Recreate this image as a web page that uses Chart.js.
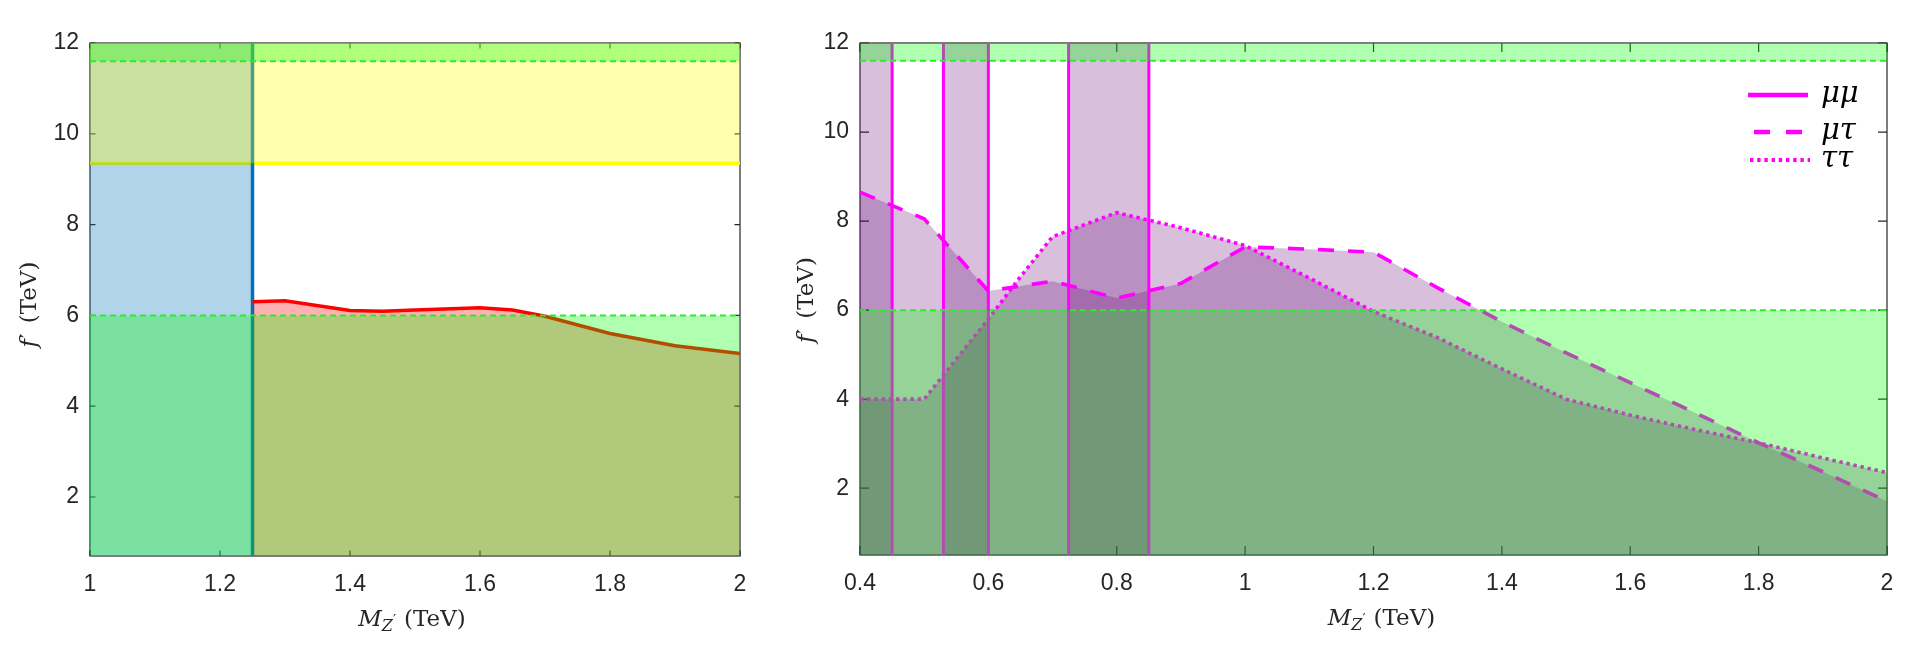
<!DOCTYPE html>
<html>
<head>
<meta charset="utf-8">
<title>Z' limits</title>
<script src="https://cdn.jsdelivr.net/npm/chart.js@4.4.1/dist/chart.umd.min.js"></script>
<style>
  html, body { margin: 0; padding: 0; background: #fff; }
  #wrap { position: relative; width: 1921px; height: 659px; overflow: hidden; }
  .panel { position: absolute; top: 0; height: 659px; }
  #left { left: 0; width: 770px; }
  #right { left: 770px; width: 1151px; }
</style>
</head>
<body>
<div id="wrap">
  <div class="panel" id="left"><canvas id="leftChart"></canvas></div>
  <div class="panel" id="right"><canvas id="rightChart"></canvas></div>
</div>
<script>
// ---- left panel data ----
const leftXRange = [1, 2];
const leftYRange = [0.7, 12];
const leftXTicks = [1, 1.2, 1.4, 1.6, 1.8, 2];
const leftYTicks = [2, 4, 6, 8, 10, 12];
const leftMass = [1.25, 1.3, 1.4, 1.45, 1.5, 1.6, 1.65, 1.7, 1.8, 1.9, 2.0];
const leftLimit = [6.30, 6.32, 6.11, 6.09, 6.12, 6.17, 6.12, 5.98, 5.60, 5.33, 5.16];
const blueEdge = 1.25;      // vertical bound (blue)
const yellowLevel = 9.35;   // horizontal bound (yellow)

// ---- right panel data ----
const rightXRange = [0.4, 2];
const rightYRange = [0.5, 12];
const rightXTicks = [0.4, 0.6, 0.8, 1, 1.2, 1.4, 1.6, 1.8, 2];
const rightYTicks = [2, 4, 6, 8, 10, 12];
const rightMass = [0.4, 0.5, 0.6, 0.65, 0.7, 0.8, 0.9, 1.0, 1.1, 1.2, 1.3, 1.4, 1.5, 1.6, 1.7, 1.8, 1.9, 2.0];
const muTau = [8.65, 8.05, 6.43, 6.54, 6.65, 6.27, 6.60, 7.42, 7.37, 7.30, 6.50, 5.74, 5.04, 4.37, 3.70, 3.02, 2.37, 1.71];
const tauTau = [4.00, 4.00, 5.80, 6.75, 7.65, 8.19, 7.85, 7.45, 6.72, 5.97, 5.38, 4.68, 4.00, 3.64, 3.32, 3.02, 2.68, 2.35];
const muMuEdges = [0.45, 0.53, 0.6, 0.725, 0.85];
const muMuBands = [[0.4, 0.45], [0.53, 0.6], [0.725, 0.85]];
const channelNames = ['\u03bc\u03bc', '\u03bc\u03c4', '\u03c4\u03c4'];

// ---- shared bounds ----
const greenLow = 6;
const greenHigh = 11.6;

const AXIS_COLOR = '#262626';
const SANS = "'Liberation Sans', Arial, sans-serif";
const SERIF = "'DejaVu Serif', 'Liberation Serif', serif";
const MAGENTA = 'rgb(255,0,255)';
const GREEN_FILL = 'rgba(0,255,0,0.31)';
const GREEN_EDGE = 'rgb(45,235,45)';
const PURPLE_FILL = 'rgba(100,0,115,0.25)';
const DASH = [16, 14];
const DOT = [3.4, 3.8];

const pts = (xs, ys) => xs.map((x, i) => ({ x: x, y: ys[i] }));
const hline = (xr, y) => [{ x: xr[0], y: y }, { x: xr[1], y: y }];
const vline = (x, yr) => [{ x: x, y: yr[0] }, { x: x, y: yr[1] }];
const fmt = v => String(+Number(v).toFixed(2));

function layer(data, style) {
  return Object.assign({
    data: data, pointRadius: 0, borderWidth: 1, fill: false,
    borderColor: 'transparent', backgroundColor: 'transparent', tension: 0
  }, style);
}

// list is bottom-first; chart.js draws highest order first
function stack(layers) {
  return layers.map((d, i) => Object.assign(d, { order: layers.length - i }));
}

function makeScales(p) {
  return {
    x: {
      type: 'linear', min: p.xRange[0], max: p.xRange[1],
      grid: { display: false, drawTicks: false }, border: { display: false },
      ticks: { autoSkip: false, maxRotation: 0, padding: 15, color: AXIS_COLOR, font: { family: SANS, size: 23 }, callback: fmt },
      afterBuildTicks: s => { s.ticks = p.xTicks.map(v => ({ value: v })); },
      afterFit: s => { s.height = p.xAxisHeight; }
    },
    y: {
      type: 'linear', min: p.yRange[0], max: p.yRange[1],
      grid: { display: false, drawTicks: false }, border: { display: false },
      ticks: { autoSkip: false, padding: 11, color: AXIS_COLOR, font: { family: SANS, size: 23 }, callback: fmt },
      afterBuildTicks: s => { s.ticks = p.yTicks.map(v => ({ value: v })); },
      afterFit: s => { s.width = p.yAxisWidth; }
    }
  };
}

// box + inward ticks, drawn under the data like the original
const framePlugin = {
  id: 'frame',
  beforeDatasetsDraw(chart, args, o) {
    const { ctx, chartArea: a } = chart;
    const x = chart.scales.x, y = chart.scales.y;
    ctx.save();
    ctx.strokeStyle = AXIS_COLOR;
    ctx.lineWidth = 1.2;
    ctx.strokeRect(a.left, a.top, a.right - a.left, a.bottom - a.top);
    ctx.beginPath();
    x.ticks.forEach(t => {
      const px = x.getPixelForValue(t.value);
      ctx.moveTo(px, a.bottom); ctx.lineTo(px, a.bottom - o.len);
      ctx.moveTo(px, a.top); ctx.lineTo(px, a.top + o.len);
    });
    y.ticks.forEach(t => {
      const py = y.getPixelForValue(t.value);
      ctx.moveTo(a.left, py); ctx.lineTo(a.left + o.len, py);
      ctx.moveTo(a.right, py); ctx.lineTo(a.right - o.len, py);
    });
    ctx.stroke();
    ctx.restore();
  }
};

function drawRuns(ctx, runs, cx, y) {
  let w = 0;
  runs.forEach(r => { ctx.font = r.font; w += ctx.measureText(r.text).width + (r.gap || 0); });
  let x = cx - w / 2;
  runs.forEach(r => {
    ctx.font = r.font;
    ctx.fillText(r.text, x, y + (r.dy || 0));
    x += ctx.measureText(r.text).width + (r.gap || 0);
  });
}

const xTitleRuns = [
  { text: 'M', font: 'italic 23px ' + SERIF, gap: 0 },
  { text: 'Z', font: 'italic 16px ' + SERIF, dy: 5 },
  { text: '\u2032', font: '14px ' + SERIF, dy: -1, gap: 8 },
  { text: '(TeV)', font: '23px ' + SERIF }
];
const yTitleRuns = [
  { text: 'f', font: 'italic 23px ' + SERIF, gap: 1 },
  { text: '\u2032', font: '20px ' + SERIF, dy: -1, gap: 10 },
  { text: '(TeV)', font: '23px ' + SERIF }
];

const titlePlugin = {
  id: 'axisTitles',
  afterDraw(chart, args, o) {
    const { ctx, chartArea: a } = chart;
    ctx.save();
    ctx.fillStyle = AXIS_COLOR;
    ctx.textBaseline = 'alphabetic';
    drawRuns(ctx, xTitleRuns, (a.left + a.right) / 2 + o.xShift, o.xBaseline);
    ctx.translate(o.yBaseline, (a.top + a.bottom) / 2 + o.yShift);
    ctx.rotate(-Math.PI / 2);
    drawRuns(ctx, yTitleRuns, 0, 0);
    ctx.restore();
  }
};

const channelStyles = [
  { dash: [], width: 4.5, from: -139, to: -79 },
  { dash: [16, 16], width: 4.5, from: -133, to: -85 },
  { dash: [3.4, 3.8], width: 4, from: -137, to: -77 }
];

const legendPlugin = {
  id: 'channelLegend',
  afterDraw(chart, args, o) {
    const { ctx, chartArea: a } = chart;
    ctx.save();
    channelNames.forEach((name, i) => {
      const st = channelStyles[i];
      const y = a.top + o.rows[i];
      ctx.strokeStyle = MAGENTA;
      ctx.lineWidth = st.width;
      ctx.setLineDash(st.dash);
      ctx.beginPath();
      ctx.moveTo(a.right + st.from, y);
      ctx.lineTo(a.right + st.to, y);
      ctx.stroke();
      ctx.setLineDash([]);
      ctx.fillStyle = '#000';
      ctx.font = 'italic 29px ' + SERIF;
      ctx.textBaseline = 'alphabetic';
      ctx.fillText(name, a.right - 66, y + 7);
    });
    ctx.restore();
  }
};

// ---- left panel layers ----
const leftLayers = stack([
  layer(hline(leftXRange, yellowLevel), { borderColor: 'rgb(255,255,0)', borderWidth: 3.5 }),
  layer([{ x: leftXRange[0], y: leftYRange[1] }, { x: blueEdge, y: leftYRange[1] }], { fill: 'start', backgroundColor: 'rgba(0,114,189,0.3)' }),
  layer(vline(blueEdge, leftYRange), { borderColor: 'rgb(0,114,189)', borderWidth: 3.5 }),
  layer(pts(leftMass, leftLimit), { fill: 'start', backgroundColor: 'rgba(255,0,0,0.31)' }),
  layer(pts(leftMass, leftLimit), { borderColor: 'rgb(255,0,0)', borderWidth: 3.5 }),
  layer(hline(leftXRange, yellowLevel), { fill: { value: leftYRange[1] }, backgroundColor: 'rgba(255,255,0,0.31)' }),
  layer(hline(leftXRange, greenHigh), { fill: { value: leftYRange[1] }, backgroundColor: GREEN_FILL, borderColor: GREEN_EDGE, borderWidth: 2, borderDash: [6, 4] }),
  layer(hline(leftXRange, greenLow), { fill: 'start', backgroundColor: GREEN_FILL, borderColor: GREEN_EDGE, borderWidth: 2, borderDash: [6, 4] })
]);

new Chart(document.getElementById('leftChart'), {
  type: 'line',
  data: { datasets: leftLayers },
  options: {
    responsive: true, maintainAspectRatio: false, animation: false,
    layout: { padding: { left: 0, right: 30, top: 43, bottom: 0 } },
    plugins: {
      legend: { display: false }, tooltip: { enabled: false },
      frame: { len: 5.5 },
      axisTitles: { xShift: -3, xBaseline: 626, yBaseline: 36, yShift: 5 }
    },
    scales: makeScales({ xRange: leftXRange, yRange: leftYRange, xTicks: leftXTicks, yTicks: leftYTicks, xAxisHeight: 103, yAxisWidth: 90 })
  },
  plugins: [framePlugin, titlePlugin]
});

// ---- right panel layers ----
const bandLayers = muMuBands.map(b =>
  layer([{ x: b[0], y: rightYRange[1] }, { x: b[1], y: rightYRange[1] }], { fill: 'start', backgroundColor: PURPLE_FILL }));
const edgeLayers = muMuEdges.map(x =>
  layer(vline(x, rightYRange), { borderColor: MAGENTA, borderWidth: 3 }));

const rightLayers = stack([].concat(
  bandLayers,
  [
    layer(pts(rightMass, muTau), { fill: 'start', backgroundColor: PURPLE_FILL }),
    layer(pts(rightMass, tauTau), { fill: 'start', backgroundColor: PURPLE_FILL }),
    layer(pts(rightMass, muTau), { borderColor: MAGENTA, borderWidth: 3.6, borderDash: DASH }),
    layer(pts(rightMass, tauTau), { borderColor: MAGENTA, borderWidth: 3.6, borderDash: DOT })
  ],
  edgeLayers,
  [
    layer(hline(rightXRange, greenHigh), { fill: { value: rightYRange[1] }, backgroundColor: GREEN_FILL, borderColor: GREEN_EDGE, borderWidth: 2, borderDash: [6, 4] }),
    layer(hline(rightXRange, greenLow), { fill: 'start', backgroundColor: GREEN_FILL, borderColor: GREEN_EDGE, borderWidth: 2, borderDash: [6, 4] })
  ]
));

new Chart(document.getElementById('rightChart'), {
  type: 'line',
  data: { datasets: rightLayers },
  options: {
    responsive: true, maintainAspectRatio: false, animation: false,
    layout: { padding: { left: 0, right: 34, top: 43, bottom: 0 } },
    plugins: {
      legend: { display: false }, tooltip: { enabled: false },
      frame: { len: 9 },
      channelLegend: { rows: [52, 89, 117] },
      axisTitles: { xShift: 8, xBaseline: 625, yBaseline: 43, yShift: 1 }
    },
    scales: makeScales({ xRange: rightXRange, yRange: rightYRange, xTicks: rightXTicks, yTicks: rightYTicks, xAxisHeight: 104, yAxisWidth: 90 })
  },
  plugins: [framePlugin, titlePlugin, legendPlugin]
});
</script>
</body>
</html>
